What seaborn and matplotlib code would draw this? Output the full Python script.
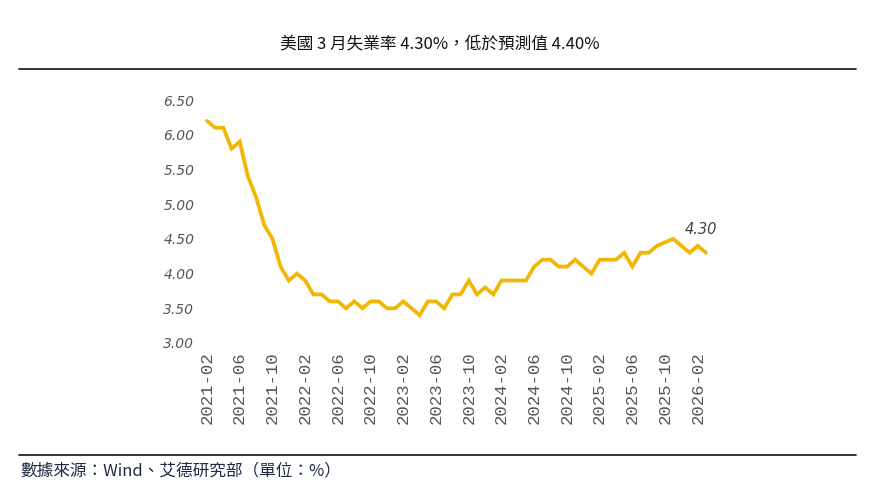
import numpy as np
import pandas as pd
import matplotlib
matplotlib.use("Agg")
import matplotlib.pyplot as plt
import seaborn as sns

# ---- data (US unemployment rate, %), monthly 2021-02 .. 2026-03 ----
months = pd.period_range("2021-02", "2026-03", freq="M").strftime("%Y-%m").tolist()
rate = [
    6.2, 6.1, 6.1, 5.8, 5.9, 5.4, 5.1, 4.7, 4.5, 4.1, 3.9,   # 2021-02..2021-12
    4.0, 3.9, 3.7, 3.7, 3.6, 3.6, 3.5, 3.6, 3.5, 3.6, 3.6, 3.5,  # 2022
    3.5, 3.6, 3.5, 3.4, 3.6, 3.6, 3.5, 3.7, 3.7, 3.9, 3.7, 3.8,  # 2023
    3.7, 3.9, 3.9, 3.9, 3.9, 4.1, 4.2, 4.2, 4.1, 4.1, 4.2, 4.1,  # 2024
    4.0, 4.2, 4.2, 4.2, 4.3, 4.1, 4.3, 4.3, 4.4, None, 4.5, 4.4,  # 2025 (Oct not released)
    4.3, 4.4, 4.3,                                               # 2026-01..03
]
tick_labels = months[::4]
title = "美國 3 月失業率 4.30%，低於預測值 4.40%"
source = "數據來源：Wind、艾德研究部（單位：%）"
last_label = "4.30"

df = pd.DataFrame({"idx": np.arange(len(months)), "month": months, "rate": rate}).dropna()

sns.set_theme(style="white")
plt.rcParams["font.family"] = ["Noto Sans CJK TC", "DejaVu Sans"]

fig = plt.figure(figsize=(8.81, 5.0), dpi=100)
ax = fig.add_axes([200 / 881, 1 - 343 / 500, 515 / 881, 243 / 500])

sns.lineplot(data=df, x="idx", y="rate", ax=ax, color="#F2B705", linewidth=2.7,
             solid_joinstyle="miter", clip_on=False)

x0 = -7 / 8.18
ax.set_xlim(x0, x0 + 515 / 8.18)
ax.set_ylim(3.0, 6.5)
yt = np.arange(3.0, 6.51, 0.5)
ax.set_yticks(yt)
ax.set_yticklabels([f"{v:.2f}" for v in yt], fontsize=10, color="#555555",
                   family=["DejaVu Sans"], style="italic")
ax.set_xticks(np.arange(0, len(months), 4))
ax.set_xticklabels(tick_labels, rotation=90, fontsize=12.5, color="#555555",
                   family=["Liberation Mono"])
ax.tick_params(axis="y", length=0, pad=4)
ax.tick_params(axis="x", length=0, pad=6)
ax.set_xlabel("")
ax.set_ylabel("")
for s in ax.spines.values():
    s.set_visible(False)
ax.grid(False)

# last value annotation
li = df["idx"].iloc[-1]
lv = df["rate"].iloc[-1]
ax.annotate(last_label, (li, lv), xytext=(-4, 11), textcoords="offset points",
            ha="center", va="bottom", fontsize=10.5, color="#444444",
            family=["DejaVu Sans"], style="italic")

# title, rules, footer
fig.text(440 / 881, 1 - 45 / 500, title, ha="center", va="center",
         fontsize=12, fontweight="medium", color="#111111")
fig.add_artist(plt.Line2D([19 / 881, 856 / 881], [1 - 69 / 500] * 2,
                          color="#111111", linewidth=1.2, transform=fig.transFigure))
fig.add_artist(plt.Line2D([19 / 881, 856 / 881], [1 - 455 / 500] * 2,
                          color="#111111", linewidth=1.2, transform=fig.transFigure))
fig.text(20 / 881, 1 - 471 / 500, source, ha="left", va="center",
         fontsize=12, color="#1F2B45")

fig.savefig("out.png", dpi=100)
